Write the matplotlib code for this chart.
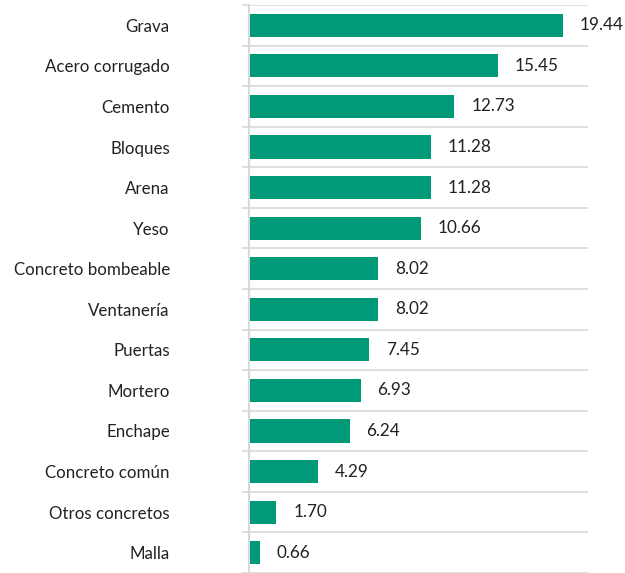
import matplotlib
matplotlib.use("Agg")
import matplotlib.pyplot as plt
import numpy as np

categorias = ["Grava", "Acero corrugado", "Cemento", "Bloques", "Arena", "Yeso",
              "Concreto bombeable", "Ventanería", "Puertas", "Mortero", "Enchape",
              "Concreto común", "Otros concretos", "Malla"]
valores = [19.44, 15.45, 12.73, 11.28, 11.28, 10.66, 8.02, 8.02, 7.45, 6.93,
           6.24, 4.29, 1.70, 0.66]

plt.rcParams['font.family'] = ['Lato', 'DejaVu Sans']

fig = plt.figure(figsize=(6.25, 5.73), dpi=100)
ax = fig.add_axes([249/625, 0, (588-249)/625, 568/573])

y = np.arange(len(categorias))
ax.barh(y, valores, height=0.57, color="#009A78", zorder=3)

for yi, v in zip(y, valores):
    ax.annotate(f"{v:.2f}", (v, yi), xytext=(12, 0), textcoords="offset points",
                va="center", ha="left", fontsize=12.3, color="#222222")

ax.set_xlim(0, 21)
ax.set_ylim(-0.5 + 568/40.9, -0.5)
ax.set_yticks(y)
ax.set_yticklabels(categorias, fontsize=12.2, color="#222222")
ax.tick_params(axis="y", which="major", length=0, pad=57)
ax.set_yticks(np.arange(-0.5, len(categorias), 1), minor=True)
ax.tick_params(axis="y", which="minor", length=5, color="#D9D9D9", width=1.2)
ax.grid(axis="y", which="minor", color="#D9D9D9", linewidth=1.2, zorder=0)
ax.set_xticks([])

for s in ["top", "right", "bottom"]:
    ax.spines[s].set_visible(False)
ax.spines["left"].set_color("#D9D9D9")
ax.spines["left"].set_linewidth(1.5)
ax.spines["left"].set_zorder(4)

fig.savefig("out.png", dpi=100)
